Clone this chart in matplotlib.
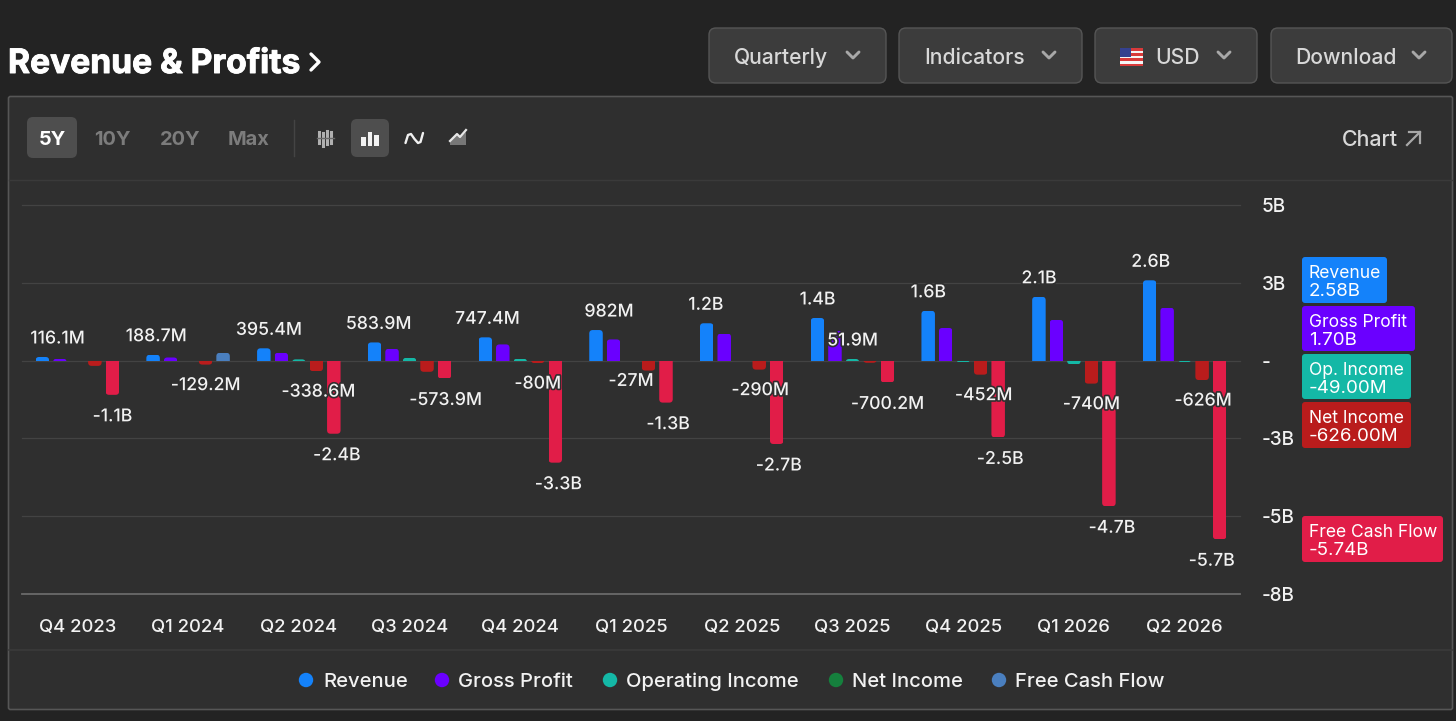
import matplotlib
matplotlib.use("Agg")
import matplotlib.pyplot as plt
import matplotlib.patheffects as pe
from matplotlib.patches import FancyBboxPatch, Rectangle, Circle, Polygon

plt.rcParams['font.family'] = ['Inter', 'DejaVu Sans']

# ---------- data ----------
quarters = ["Q4 2023", "Q1 2024", "Q2 2024", "Q3 2024", "Q4 2024", "Q1 2025",
            "Q2 2025", "Q3 2025", "Q4 2025", "Q1 2026", "Q2 2026"]
revenue = [0.1161, 0.1887, 0.3954, 0.5839, 0.7474, 0.982, 1.2, 1.37, 1.6, 2.05, 2.58]
gross_profit = [0.06, 0.10, 0.25, 0.38, 0.52, 0.68, 0.87, 0.96, 1.05, 1.31, 1.70]
op_income = [0.0, 0.0, 0.04, 0.09, 0.06, -0.027, 0.0, 0.0519, -0.06, -0.12, -0.049]
net_income = [-0.17, -0.1292, -0.3386, -0.36, -0.08, -0.32, -0.29, -0.07, -0.452, -0.74, -0.626]
free_cash_flow = [-1.1, 0.25, -2.35, -0.5739, -3.28, -1.35, -2.68, -0.7002, -2.47, -4.68, -5.74]

revenue_labels = ["116.1M", "188.7M", "395.4M", "583.9M", "747.4M", "982M",
                  "1.2B", "1.4B", "1.6B", "2.1B", "2.6B"]
revenue_label_dx = [15, 3, 5, 4, 2, 13, -1, 0, 0, 0, 1]
op_labels = [None, None, None, None, None, "-27M", None, "51.9M", None, None, None]
net_labels = [None, "-129.2M", "-338.6M", None, "-80M", None, "-290M", None,
              "-452M", "-740M", "-626M"]
net_label_dx = [0, 0, 2, 0, 0, 0, 1, 0, 3, 0, 1]
fcf_labels = ["-1.1B", None, "-2.4B", "-573.9M", "-3.3B", "-1.3B", "-2.7B",
              "-700.2M", "-2.5B", "-4.7B", "-5.7B"]
fcf_label_dx = [0, 0, 3, 1, 3, 2, 2, 0, 2, 3, -8]

y_ticks = [5, 2.5, 0, -2.5, -5, -7.5]
y_tick_labels = ["5B", "3B", "-", "-3B", "-5B", "-8B"]

C_REV, C_GP, C_OP, C_NET, C_FCF = "#1482fa", "#6a00ff", "#14b8a6", "#b91c1c", "#e11d48"
C_FCF_POS = "#4a7fbf"
BG, PANEL, EDGE, SEP = "#232323", "#2f2f2f", "#565656", "#3a3a3a"
TXT = "#f2f2f2"

W, H = 1456, 721
fig = plt.figure(figsize=(W / 100, H / 100), dpi=100, facecolor=BG)

# ---------- page layer in pixel coordinates ----------
ui = fig.add_axes([0, 0, 1, 1], zorder=0)
ui.set_xlim(0, W)
ui.set_ylim(H, 0)
ui.axis("off")


def rbox(x0, y0, x1, y1, r, fc, ec="none", lw=1.0, z=1):
    ui.add_patch(FancyBboxPatch((x0, y0), x1 - x0, y1 - y0,
                                boxstyle=f"round,pad=0,rounding_size={r}",
                                fc=fc, ec=ec, lw=lw, zorder=z))


def chevron(cx, cy, color="#a8a8a8"):
    ui.plot([cx - 6, cx, cx + 6], [cy - 3, cy + 3, cy - 3], color=color,
            lw=2.1, solid_capstyle="round", solid_joinstyle="round", zorder=3)


# panel and separators
rbox(8.5, 96.5, 1452.5, 709.5, 2, PANEL, EDGE, 1.2)
ui.plot([9, 1452], [180, 180], color=SEP, lw=1, zorder=2)
ui.plot([9, 1452], [650, 650], color=SEP, lw=1.2, zorder=2)

# title
ui.text(8, 64, "Revenue & Profits", color="#ffffff", fontsize=24.2, fontweight="bold",
        va="center", ha="left", zorder=3,
        path_effects=[pe.withStroke(linewidth=0.7, foreground="#ffffff")])
ui.plot([311, 319, 311], [54, 62, 70], color="#ffffff", lw=2.4,
        solid_capstyle="round", solid_joinstyle="round", zorder=3)

# header buttons
for x0, x1, label, tx, cx in [(709, 886, "Quarterly", 734, 853),
                              (899, 1082, "Indicators", 924, 1049),
                              (1095, 1257, "USD", 1155, 1224),
                              (1271, 1452, "Download", 1295, 1419)]:
    rbox(x0, 28, x1, 83, 7, "#3c3c3c", "#555555", 1.0)
    ui.text(tx, 58, label, color="#d8d8d8", fontsize=15.2, fontweight="medium",
            va="center", ha="left", zorder=3)
    chevron(cx, 55)

# flag
for i in range(7):
    ui.add_patch(Rectangle((1120, 48 + i * 2.6), 23, 2.6,
                           fc="#d83a3a" if i % 2 == 0 else "#f5f5f5", ec="none", zorder=3))
ui.add_patch(Rectangle((1120, 48), 11, 9, fc="#35418f", ec="none", zorder=4))

# range pills
rbox(27, 117, 77, 158, 6, "#4e4e4e")
for cx, s, col in [(52, "5Y", "#ffffff"), (112, "10Y", "#7c7c7c"),
                   (180, "20Y", "#7c7c7c"), (249, "Max", "#7c7c7c")]:
    ui.text(cx, 140, s, color=col, fontsize=14.4, fontweight="bold",
            ha="center", va="center", zorder=3)
ui.plot([294, 294], [120, 156], color="#444444", lw=1, zorder=2)

# chart-type icons
rbox(351, 119, 389, 157, 6, "#4e4e4e")
for dx, top, bot in [(-6, 132, 143), (-2, 133, 146), (2, 131, 144), (6, 132, 143)]:
    ui.plot([325 + dx, 325 + dx], [top, bot], color="#b0b0b0", lw=2.2, zorder=3)
ui.plot([317, 334], [138, 138], color="#6a6a6a", lw=1, zorder=4)
for dx, top in [(-6.5, 137), (0, 132), (6.5, 135)]:
    ui.add_patch(Rectangle((370 + dx - 2.2, top), 4.4, 146 - top, fc="#f2f2f2", ec="none", zorder=3))
ui.plot([405.5, 408, 411, 414.5, 418, 420.5, 423], [143, 135, 134, 139, 143, 142, 133],
        color="#f0f0f0", lw=1.7, solid_capstyle="round", zorder=3)
ui.add_patch(Polygon([(450, 145), (450, 141), (457, 134), (460, 137), (466, 132), (466, 145)],
                     fc="#777777", ec="none", zorder=3))
ui.plot([450, 457, 460, 466], [141, 134, 137, 130], color="#e6e6e6", lw=1.6, zorder=4)

# chart link
ui.text(1342, 140, "Chart", color="#d8d8d8", fontsize=15.4, fontweight="medium",
        va="center", ha="left", zorder=3)
ui.plot([1407, 1420], [145, 132], color="#a8a8a8", lw=1.6, zorder=3)
ui.plot([1409, 1420, 1420], [132, 132, 143], color="#a8a8a8", lw=1.6, zorder=3)

# legend row
for cx, tx, col, s in [(306, 323, C_REV, "Revenue"), (442, 458, C_GP, "Gross Profit"),
                       (610, 626, C_OP, "Operating Income"), (836, 852, "#15803d", "Net Income"),
                       (999, 1015, C_FCF_POS, "Free Cash Flow")]:
    ui.add_patch(Circle((cx, 680), 7.2, fc=col, ec="none", zorder=3))
    ui.text(tx, 682, s, color=TXT, fontsize=14.5, fontweight="medium",
            va="center", ha="left", zorder=3)

# ---------- chart axes ----------
AX_L, AX_R, AX_T, AX_B = 22, 1240, 205, 594
ax = fig.add_axes([AX_L / W, 1 - AX_B / H, (AX_R - AX_L) / W, (AX_B - AX_T) / H], zorder=2)
ax.patch.set_alpha(0)
ax.set_xlim(-0.5, len(quarters) - 0.5)
ax.set_ylim(-7.5, 5)
for s in ax.spines.values():
    s.set_visible(False)

ax.set_yticks(y_ticks)
ax.set_yticklabels(y_tick_labels)
ax.yaxis.tick_right()
ax.tick_params(axis="y", length=0, pad=15.5, labelcolor=TXT, labelsize=13.6)
ax.set_xticks(range(len(quarters)))
ax.set_xticklabels(quarters)
ax.tick_params(axis="x", length=0, pad=18, labelcolor=TXT, labelsize=13.3)
for lab in ax.get_yticklabels() + ax.get_xticklabels():
    lab.set_fontweight("medium")

for t in y_ticks:
    col = "#6a6a6a" if t == -7.5 else "#434343"
    ax.axhline(t, color=col, lw=0.9 if t != -7.5 else 1.3, zorder=1, clip_on=False)

step = 0.158
width = 0.122
px_x = (AX_R - AX_L) / (ax.get_xlim()[1] - ax.get_xlim()[0])
px_y = (AX_B - AX_T) / (ax.get_ylim()[1] - ax.get_ylim()[0])
aspect = px_x / px_y
radius = 3.5 / px_x

series = [(revenue, C_REV), (gross_profit, C_GP), (op_income, C_OP),
          (net_income, C_NET), (free_cash_flow, C_FCF)]
for k, (vals, col) in enumerate(series):
    xs = [i + (k - 2) * step for i in range(len(vals))]
    colors = [C_FCF_POS if (col == C_FCF and v > 0) else col for v in vals]
    bars = ax.bar(xs, vals, width=width, color=colors, zorder=3)
    for rect, v in zip(bars, vals):
        if v == 0:
            continue
        x0 = rect.get_x()
        lo, hi = (-1.0, v) if v > 0 else (v, 1.0)
        clip = FancyBboxPatch((x0, lo), width, hi - lo,
                              boxstyle=f"round,pad=0,rounding_size={radius}",
                              mutation_aspect=aspect, transform=ax.transData)
        rect.set_clip_path(clip)

halo = [pe.withStroke(linewidth=2.4, foreground=PANEL)]


def label(i, k, value, text, dx, dy):
    ax.annotate(text, xy=(i + (k - 2) * step, value),
                xytext=(dx * 0.72, dy * 0.72), textcoords="offset points",
                ha="center", va="center", color=TXT, fontsize=12.7,
                fontweight="medium", zorder=6, path_effects=halo, annotation_clip=False)


for i, s in enumerate(revenue_labels):
    label(i, 0, revenue[i], s, revenue_label_dx[i], 18)
for i, s in enumerate(op_labels):
    if s:
        label(i, 2, op_income[i], s, 0, 18 if op_income[i] > 0 else -20)
for i, s in enumerate(net_labels):
    if s:
        label(i, 3, net_income[i], s, net_label_dx[i], -21)
for i, s in enumerate(fcf_labels):
    if s:
        label(i, 4, free_cash_flow[i], s, fcf_label_dx[i], -22)

# ---------- last-value tags ----------
tags = [("Revenue", f"{revenue[-1]:.2f}B", C_REV, 1387, 257, 303),
        ("Gross Profit", f"{gross_profit[-1]:.2f}B", C_GP, 1415, 306, 351),
        ("Op. Income", f"{op_income[-1] * 1000:.2f}M", C_OP, 1411, 354, 399),
        ("Net Income", f"{net_income[-1] * 1000:.2f}M", C_NET, 1411, 402, 448),
        ("Free Cash Flow", f"{free_cash_flow[-1]:.2f}B", C_FCF, 1443, 516, 562)]
for name, val, col, x1, y0, y1 in tags:
    rbox(1302, y0, x1, y1, 3, col, z=3)
    ui.text(1309, y0 + 16.5, name, color="#ffffff", fontsize=12.6, va="center", ha="left", zorder=4)
    ui.text(1309, y0 + 34.5, val, color="#ffffff", fontsize=13.5, va="center", ha="left", zorder=4)

fig.savefig("out.png", dpi=100, facecolor=BG)
